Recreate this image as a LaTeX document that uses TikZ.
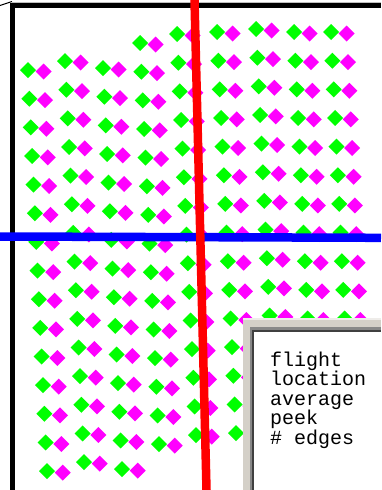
\documentclass[tikz,border=0pt]{standalone}
\usepackage{fontspec}
\newfontfamily\monofnt{Liberation Mono}
\definecolor{gr}{HTML}{00FF00}
\definecolor{mg}{HTML}{FF00FF}
\definecolor{rd}{HTML}{FF0000}
\definecolor{bl}{HTML}{0000FF}
\definecolor{winface}{HTML}{D4D0C8}
\definecolor{winshade}{HTML}{888888}
\definecolor{windark}{HTML}{404040}
\tikzset{
  pair/.pic={
    \fill[gr] (-8,0)--(0,-8)--(8,0)--(0,8)--cycle;
    \fill[mg] (7.7,1.5)--(15.7,-6.5)--(23.7,1.5)--(15.7,9.5)--cycle;
  },
  frameline/.style={line width=5pt, black},
  cutline/.style={line width=8.5pt},
  legendtext/.style={inner sep=0pt, anchor=base west, align=left,
    font=\monofnt\fontsize{20}{19.5}\selectfont}
}
\begin{document}
\begin{tikzpicture}[x=1pt,y=-1pt]
\useasboundingbox (0,0) rectangle (381,490);
\fill[white] (0,0) rectangle (381,490);
% diamond pairs
\foreach \cx/\cy in {28/70, 65/61, 103/68, 140/43, 177/34, 217/32, 256/29, 294/32, 331/32}{
  \foreach \k in {0,...,14}{
    \pgfmathsetmacro\gx{\cx+1.36*\k}
    \pgfmathsetmacro\gy{\cy+28.65*\k}
    \pic at (\gx,\gy) {pair};
  }
}
% frame
\draw[line width=1pt, gray!50] (12,2) -- (381,2);
\draw[frameline] (10,5.5) -- (381,5.5);
\draw[frameline] (12.5,3) -- (12.5,490);
\draw[line width=1pt, black] (0,5.5) -- (12,1.5);
% cut lines
\draw[cutline, bl] (0,236.5) -- (381,237.8);
\draw[cutline, rd] (194.5,0) -- (206.5,490);
% legend window
\fill[winface] (243,318) rectangle (381,490);
\fill[white!60!winface] (243,318) rectangle (381,319.5);
\fill[winshade] (250,327) rectangle (381,490);
\fill[windark] (252,330) rectangle (381,490);
\fill[white] (254,332) rectangle (381,490);
\node[legendtext] (legend) at (270,444) {flight\\location\\average\\peek\\\# edges};
\end{tikzpicture}
\end{document}
